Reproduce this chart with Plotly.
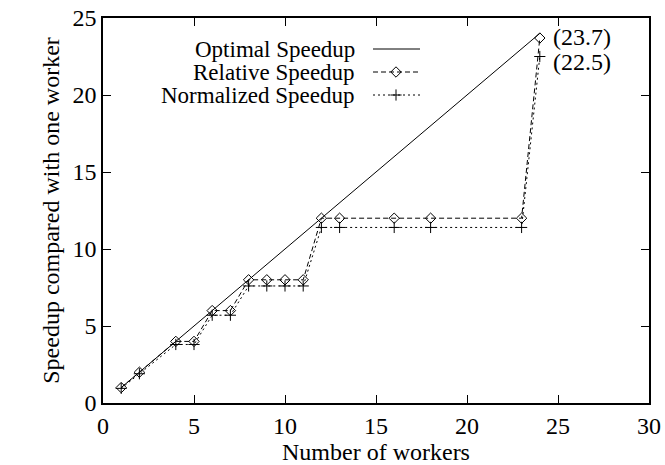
import plotly.graph_objects as go

# ---------------- data ----------------
workers = [1, 2, 4, 5, 6, 7, 8, 9, 10, 11, 12, 13, 16, 18, 23, 24]
relative_speedup = [1, 2, 4, 4, 6, 6, 8, 8, 8, 8, 12, 12, 12, 12, 12, 23.7]
normalized_speedup = [0.95, 1.9, 3.8, 3.8, 5.7, 5.7, 7.6, 7.6, 7.6, 7.6,
                      11.4, 11.4, 11.4, 11.4, 11.4, 22.5]
optimal_x = [1, 24]
optimal_y = [1, 24]
x_ticks = [0, 5, 10, 15, 20, 25, 30]
y_ticks = [0, 5, 10, 15, 20, 25]
legend_labels = ["Optimal Speedup", "Relative Speedup", "Normalized Speedup"]
end_labels = ["(23.7)", "(22.5)"]

# ---------------- styles ----------------
W, H = 665, 465
ML, MR, MT, MB = 103, 16, 18, 62
PW, PH = W - ML - MR, H - MT - MB
FONT = "Liberation Serif"
FS = 24
FS_KEY = 23
BLACK = "#000000"
DASH = "5px,3px"
DOT = "2px,3px"

fig = go.Figure()

fig.add_trace(go.Scatter(x=optimal_x, y=optimal_y, mode="lines",
                         line=dict(color=BLACK, width=1), showlegend=False))
fig.add_trace(go.Scatter(x=workers, y=relative_speedup, mode="lines+markers",
                         line=dict(color=BLACK, width=1, dash=DASH),
                         marker=dict(symbol="diamond-open", size=8,
                                     color=BLACK, line=dict(width=1, color=BLACK)),
                         showlegend=False))
fig.add_trace(go.Scatter(x=workers, y=normalized_speedup, mode="lines+markers",
                         line=dict(color=BLACK, width=1, dash=DOT),
                         marker=dict(symbol="cross-thin-open", size=8,
                                     color=BLACK, line=dict(width=1, color=BLACK)),
                         showlegend=False))

# ---------------- gnuplot-style key (pixel overlay axes) ----------------
key_rows_y = [354, 331, 308]          # pixels above plot bottom
key_line_x = [270, 317]               # sample line extent (pixels from plot left)
key_mark_x = 293
key_text_x = 253
key_styles = [
    dict(dash="solid", marker=None),
    dict(dash=DASH, marker="diamond-open"),
    dict(dash=DOT, marker="cross-thin-open"),
]
for label, ry, st in zip(legend_labels, key_rows_y, key_styles):
    fig.add_trace(go.Scatter(x=key_line_x, y=[ry, ry], mode="lines",
                             xaxis="x2", yaxis="y2",
                             line=dict(color=BLACK, width=1, dash=st["dash"]),
                             showlegend=False, hoverinfo="skip"))
    if st["marker"]:
        fig.add_trace(go.Scatter(x=[key_mark_x], y=[ry], mode="markers",
                                 xaxis="x2", yaxis="y2",
                                 marker=dict(symbol=st["marker"], size=8, color=BLACK,
                                             line=dict(width=1, color=BLACK)),
                                 showlegend=False, hoverinfo="skip"))
    fig.add_annotation(x=key_text_x, y=ry, xref="x2", yref="y2", text=label,
                       showarrow=False, xanchor="right", yanchor="middle",
                       borderpad=0,
                       font=dict(family=FONT, size=FS_KEY, color=BLACK))

# end-value labels
fig.add_annotation(x=workers[-1], y=relative_speedup[-1], text=end_labels[0],
                   showarrow=False, xanchor="left", yanchor="middle", xshift=12,
                   yshift=1, borderpad=0, font=dict(family=FONT, size=FS, color=BLACK))
fig.add_annotation(x=workers[-1], y=normalized_speedup[-1], text=end_labels[1],
                   showarrow=False, xanchor="left", yanchor="middle", xshift=12,
                   yshift=-5, borderpad=0, font=dict(family=FONT, size=FS, color=BLACK))

axis_common = dict(showgrid=False, zeroline=False, showline=True, linecolor=BLACK,
                   linewidth=1.5, mirror="ticks", ticks="inside", ticklen=8,
                   tickwidth=1, tickcolor=BLACK, automargin=False,
                   tickfont=dict(family=FONT, size=FS, color=BLACK))

fig.update_layout(
    width=W, height=H,
    margin=dict(l=ML, r=MR, t=MT, b=MB),
    paper_bgcolor="white", plot_bgcolor="white",
    font=dict(family=FONT, size=FS, color=BLACK),
    xaxis=dict(range=[0, 30], tickvals=x_ticks, ticktext=[str(v) for v in x_ticks],
               title=dict(text="Number of workers", standoff=3,
                          font=dict(family=FONT, size=FS, color=BLACK)),
               **axis_common),
    yaxis=dict(range=[0, 25], tickvals=y_ticks, ticktext=[str(v) for v in y_ticks],
               title=dict(text="Speedup compared with one worker", standoff=6,
                          font=dict(family=FONT, size=FS, color=BLACK)),
               **axis_common),
    xaxis2=dict(range=[0, PW], overlaying="x", anchor="y2", visible=False),
    yaxis2=dict(range=[0, PH], overlaying="y", anchor="x2", visible=False),
    showlegend=False,
)

fig.write_html("out.html")
